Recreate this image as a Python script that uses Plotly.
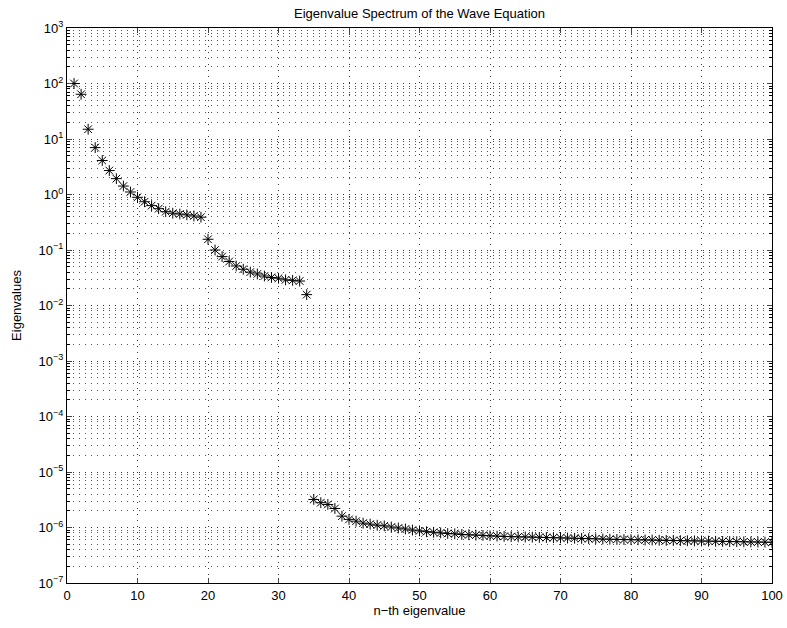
import plotly.graph_objects as go

n_index = list(range(1, 101))
eigenvalues = [
    100, 64, 15, 7.0, 4.1, 2.7, 1.93, 1.42, 1.11, 0.89,
    0.74, 0.63, 0.555, 0.49, 0.46, 0.445, 0.43, 0.41, 0.39, 0.156,
    0.10, 0.076, 0.062, 0.0515, 0.045, 0.040, 0.037, 0.034, 0.032, 0.031,
    0.029, 0.0284, 0.0276, 0.0157,
    3.2e-6, 2.8e-6, 2.6e-6, 2.2e-6, 1.6e-6, 1.4e-6, 1.3e-6, 1.2e-6, 1.15e-6, 1.1e-6,
    1.07e-6, 1.02e-6, 0.98e-6, 0.94e-6, 0.90e-6, 0.87e-6, 0.84e-6, 0.82e-6, 0.80e-6, 0.78e-6,
    0.77e-6, 0.75e-6, 0.74e-6, 0.73e-6, 0.72e-6, 0.71e-6, 0.70e-6, 0.69e-6, 0.685e-6, 0.68e-6,
    0.675e-6, 0.67e-6, 0.665e-6, 0.66e-6, 0.655e-6, 0.65e-6, 0.645e-6, 0.64e-6, 0.635e-6, 0.63e-6,
    0.625e-6, 0.62e-6, 0.615e-6, 0.61e-6, 0.607e-6, 0.603e-6, 0.60e-6, 0.597e-6, 0.594e-6, 0.59e-6,
    0.587e-6, 0.584e-6, 0.58e-6, 0.577e-6, 0.574e-6, 0.571e-6, 0.568e-6, 0.565e-6, 0.562e-6, 0.559e-6,
    0.556e-6, 0.553e-6, 0.55e-6, 0.547e-6, 0.544e-6, 0.541e-6,
]
x_ticks = [0, 10, 20, 30, 40, 50, 60, 70, 80, 90, 100]
y_tick_exps = [3, 2, 1, 0, -1, -2, -3, -4, -5, -6, -7]
y_tick_vals = [10.0 ** e for e in y_tick_exps]
y_tick_text = ["10<sup>%s</sup>" % (str(e) if e >= 0 else "\u2212" + str(-e)) for e in y_tick_exps]

font = "Liberation Sans, Arial, Helvetica, sans-serif"
dotted = "1px,5px"

fig = go.Figure()
fig.add_trace(go.Scatter(
    x=n_index, y=eigenvalues, mode="markers",
    marker=dict(symbol="asterisk-open", size=9, color="black",
                line=dict(color="black", width=1)),
    showlegend=False,
))

fig.update_layout(
    width=787, height=628,
    margin=dict(l=67, r=15, t=28, b=45, autoexpand=False),
    paper_bgcolor="white", plot_bgcolor="white",
    font=dict(family=font, size=13, color="black"),
    title=dict(text="Eigenvalue Spectrum of the Wave Equation",
               x=(67 + 772) / 2 / 787, xanchor="center",
               y=1 - 13 / 628, yanchor="middle", yref="container",
               font=dict(size=13, family=font, color="black")),
    xaxis=dict(
        range=[0, 100], tickvals=x_ticks, ticks="inside", ticklen=5,
        showline=True, linecolor="black", linewidth=1, mirror="ticks",
        showgrid=True, gridcolor="#333333", griddash=dotted, gridwidth=1,
        zeroline=False, tickfont=dict(size=13), automargin=False,
        title=dict(text="n\u2212th eigenvalue", standoff=2, font=dict(size=13)),
    ),
    yaxis=dict(
        type="log", range=[-7, 3], tickvals=y_tick_vals, ticktext=y_tick_text,
        ticks="inside", ticklen=5,
        showline=True, linecolor="black", linewidth=1, mirror="ticks",
        showgrid=True, gridcolor="#333333", griddash=dotted, gridwidth=1,
        zeroline=False, tickfont=dict(size=13), automargin=False,
        minor=dict(dtick="D1", ticks="inside", ticklen=3, tickcolor="black",
                   showgrid=True, gridcolor="#555555", griddash=dotted, gridwidth=1),
        title=dict(text="Eigenvalues", standoff=14, font=dict(size=13)),
    ),
)

fig.write_html("out.html")
